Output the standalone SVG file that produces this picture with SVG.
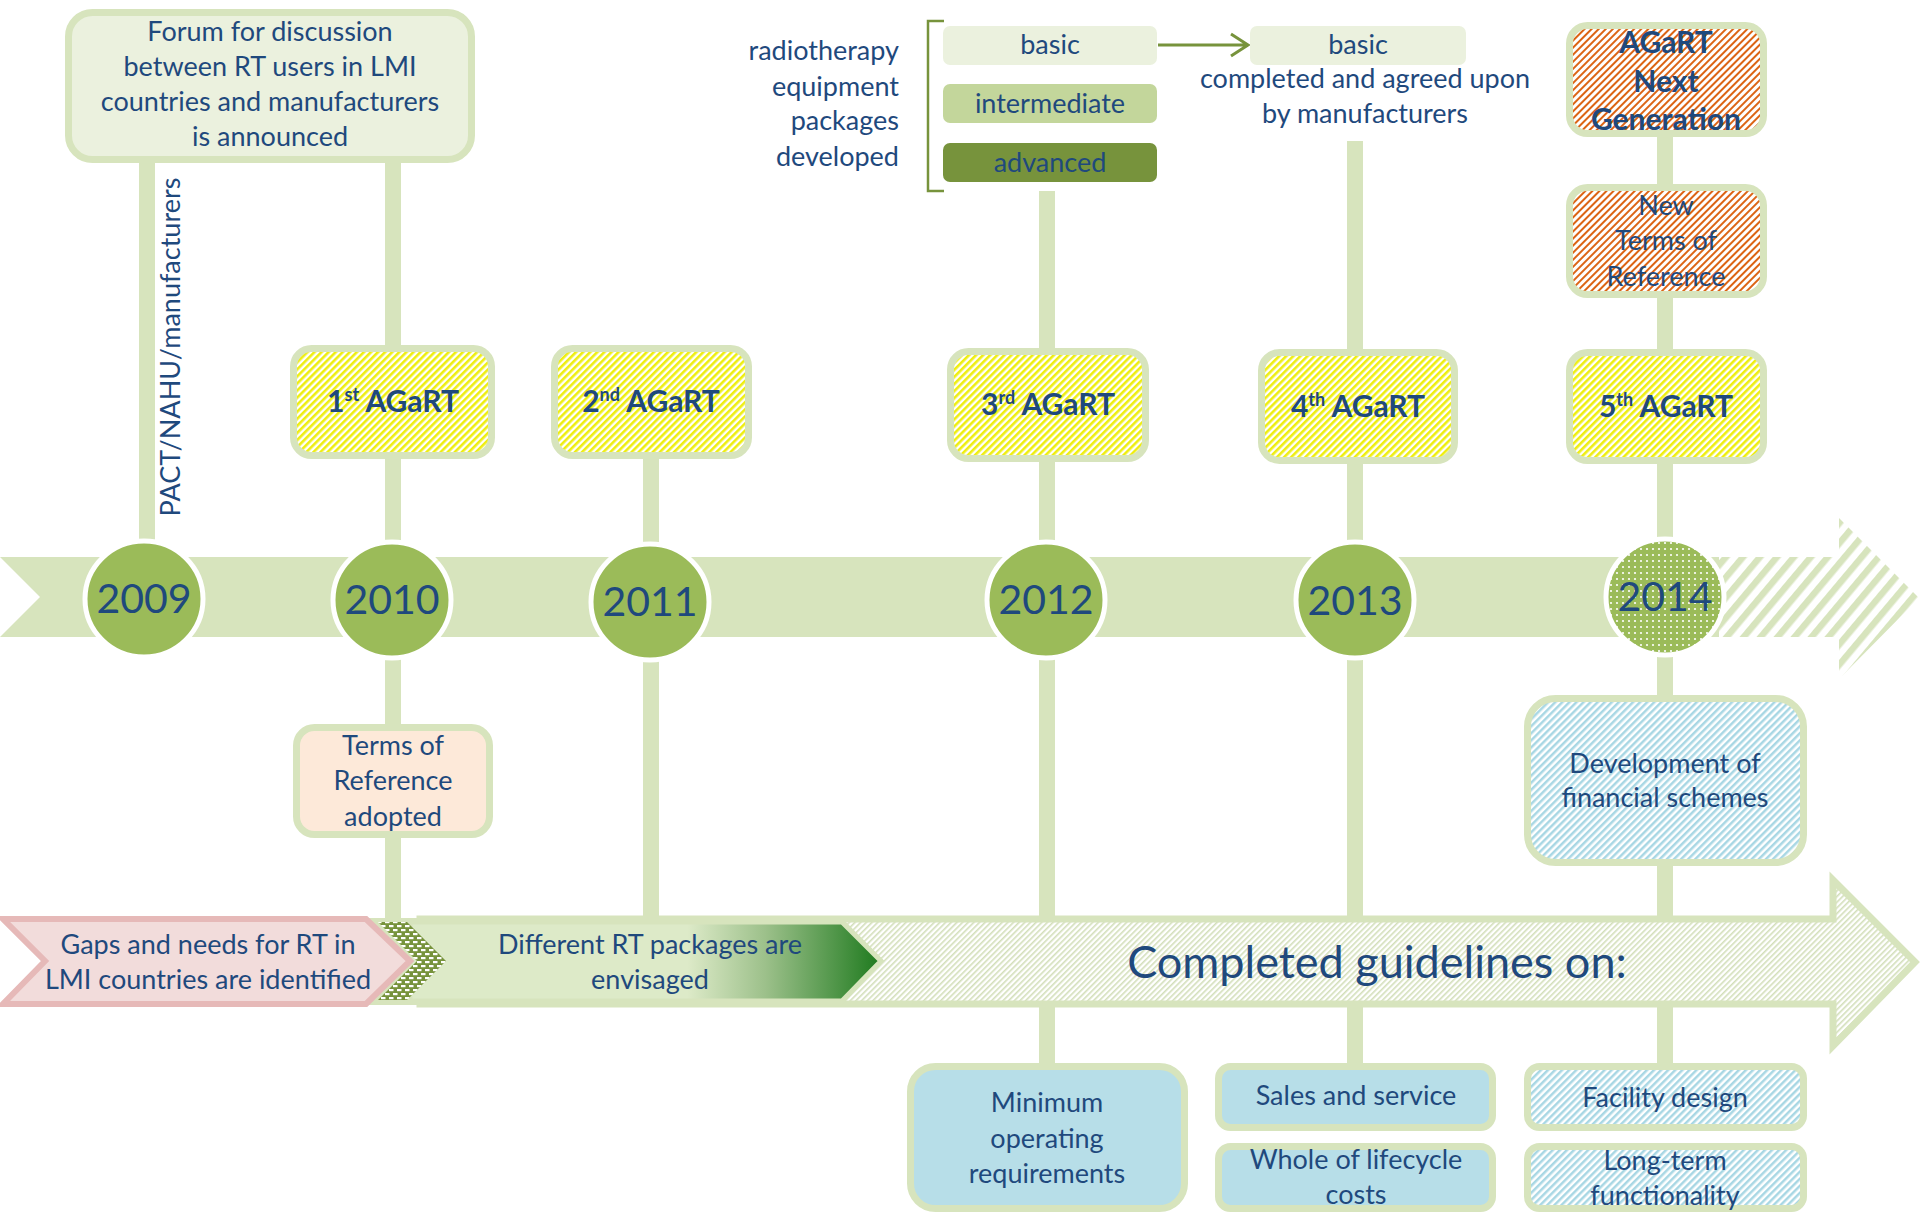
<svg xmlns="http://www.w3.org/2000/svg" width="1920" height="1218" viewBox="0 0 1920 1218">
<defs>
<style>
text{font-family:Lato,"Open Sans","Liberation Sans",sans-serif;fill:#1F497D;text-anchor:middle}
.f27{font-size:27px}
.bold{font-weight:bold;font-size:30px}
.yr{font-size:41px}
.conn{stroke:#D7E4BD;stroke-width:16;fill:none}
.bx{stroke:#D7E4BD;stroke-width:7}
.yc{fill:#9BBB59;stroke:#FFFFFF;stroke-width:5}
</style>
<pattern id="pYellow" width="5" height="5" patternUnits="userSpaceOnUse" patternTransform="rotate(45)">
<rect width="5" height="5" fill="#FFFFFF"/><rect width="2.6" height="5" fill="#EEEE10"/>
</pattern>
<pattern id="pRed" width="5" height="5" patternUnits="userSpaceOnUse" patternTransform="rotate(45)">
<rect width="5" height="5" fill="#FFFFFF"/><rect width="2" height="5" fill="#DC6414"/>
</pattern>
<pattern id="pBlue" width="5" height="5" patternUnits="userSpaceOnUse" patternTransform="rotate(45)">
<rect width="5" height="5" fill="#FFFFFF"/><rect width="2.5" height="5" fill="#A8D7E4"/>
</pattern>
<pattern id="pFine" width="4" height="4" patternUnits="userSpaceOnUse" patternTransform="rotate(45)">
<rect width="4" height="4" fill="#FFFFFF"/><rect width="1.6" height="4" fill="#D3DFBA"/>
</pattern>
<pattern id="pWide" width="13" height="13" patternUnits="userSpaceOnUse" patternTransform="rotate(40)">
<rect width="13" height="13" fill="#FFFFFF"/><rect width="6.5" height="13" fill="#D7E4BD"/>
</pattern>
<pattern id="pDots" width="6" height="6" patternUnits="userSpaceOnUse">
<rect width="6" height="6" fill="#9BBB59"/><circle cx="3" cy="3" r="1.1" fill="#FFFFFF"/>
</pattern>
<pattern id="pDotsDark" width="8" height="8" patternUnits="userSpaceOnUse">
<rect width="8" height="8" fill="#77933C"/><rect x="1" y="1" width="4.5" height="2.2" fill="#FFFFFF"/><rect x="5" y="5" width="3" height="2.2" fill="#FFFFFF"/><rect x="0" y="5" width="1.5" height="2.2" fill="#FFFFFF"/>
</pattern>
<linearGradient id="gGreen" gradientUnits="userSpaceOnUse" x1="420" y1="0" x2="881" y2="0">
<stop offset="0" stop-color="#DDEAC8"/>
<stop offset="0.58" stop-color="#DDEAC8"/>
<stop offset="0.75" stop-color="#9CC08A"/>
<stop offset="1" stop-color="#1E7A1E"/>
</linearGradient>
</defs>

<!-- connectors -->
<g id="connectors">
<line class="conn" x1="147" y1="160" x2="147" y2="545"/>
<line class="conn" x1="393" y1="160" x2="393" y2="920"/>
<line class="conn" x1="651" y1="455" x2="651" y2="920"/>
<line class="conn" x1="1047" y1="191" x2="1047" y2="1066"/>
<line class="conn" x1="1355" y1="141" x2="1355" y2="1066"/>
<line class="conn" x1="1665" y1="135" x2="1665" y2="1066"/>
<path d="M1158,45 H1247 M1231,34 L1248,45 L1231,56" stroke="#77933C" stroke-width="3" fill="none"/>
</g>

<!-- timeline band -->
<g id="timeline">
<polygon points="0,557 1722,557 1722,637 0,637 40,597" fill="#D7E4BD"/>
<polygon points="1719,557 1839,557 1839,518 1919,598 1839,679 1839,637 1719,637" fill="url(#pWide)"/>
</g>

<!-- bottom banner -->
<g id="banner-completed">
<polygon points="420,919 1833,919 1833,880 1915,962 1833,1046 1833,1004 420,1004" fill="url(#pFine)" stroke="#D7E4BD" stroke-width="7"/>
<text x="1377" y="978" style="font-size:45px">Completed guidelines on:</text>
</g>
<g id="banner-different">
<polygon points="368,918 842,918 884,961 842,1005 368,1005 410,961" fill="#D7E4BD"/>
<polygon points="410,922 842,922 881,961 842,1001 410,1001" fill="url(#gGreen)" stroke="#D7E4BD" stroke-width="5"/>
<text class="f27" x="650" y="954">Different RT packages are</text>
<text class="f27" x="650" y="989">envisaged</text>
</g>
<g id="banner-dots">
<polygon points="378,922 407,922 446,961 407,1000 378,1000 417,961" fill="url(#pDotsDark)"/>
</g>
<g id="banner-gaps">
<polygon points="3,919 366,919 410,961 366,1004 3,1004 45,961" fill="#F2DCDB" stroke="#E6B9B8" stroke-width="6"/>
<text class="f27" x="208" y="954">Gaps and needs for RT in</text>
<text class="f27" x="208" y="989">LMI countries are identified</text>
</g>

<!-- top nodes -->
<g id="forum">
<rect class="bx" x="68.5" y="12.5" width="403" height="147" rx="24" fill="#EBF1DE"/>
<text class="f27" x="270" y="41">Forum for discussion</text>
<text class="f27" x="270" y="76">between RT users in LMI</text>
<text class="f27" x="270" y="111">countries and manufacturers</text>
<text class="f27" x="270" y="146">is announced</text>
</g>
<g id="pact-label">
<text class="f27" x="171" y="356" transform="rotate(-90 171 347)">PACT/NAHU/manufacturers</text>
</g>

<g id="packages">
<text class="f27" x="899" y="60" style="text-anchor:end">radiotherapy</text>
<text class="f27" x="899" y="96" style="text-anchor:end">equipment</text>
<text class="f27" x="899" y="130" style="text-anchor:end">packages</text>
<text class="f27" x="899" y="166" style="text-anchor:end">developed</text>
<path d="M944,21 H928 V191 H944" stroke="#77933C" stroke-width="2.5" fill="none"/>
</g>
<g id="pkg-basic">
<rect x="943" y="26" width="214" height="39" rx="7" fill="#EBF1DE"/>
<text class="f27" x="1050" y="54">basic</text>
</g>
<g id="pkg-intermediate">
<rect x="943" y="84" width="214" height="39" rx="7" fill="#C3D69B"/>
<text class="f27" x="1050" y="113">intermediate</text>
</g>
<g id="pkg-advanced">
<rect x="943" y="143" width="214" height="39" rx="7" fill="#77933C"/>
<text class="f27" x="1050" y="172">advanced</text>
</g>
<g id="basic-agreed">
<rect x="1250" y="26" width="216" height="39" rx="7" fill="#EBF1DE"/>
<text class="f27" x="1358" y="54">basic</text>
<text class="f27" x="1365" y="88">completed and agreed upon</text>
<text class="f27" x="1365" y="123">by manufacturers</text>
</g>

<g id="agart-next">
<rect class="bx" x="1569.5" y="25.5" width="194" height="108" rx="18" fill="url(#pRed)"/>
<text class="bold" x="1666" y="53">AGaRT</text>
<text class="bold" x="1666" y="92">Next</text>
<text class="bold" x="1666" y="130">Generation</text>
</g>
<g id="new-tor">
<rect class="bx" x="1569.5" y="187.5" width="194" height="107" rx="18" fill="url(#pRed)"/>
<text class="f27" x="1666" y="215">New</text>
<text class="f27" x="1666" y="250">Terms of</text>
<text class="f27" x="1666" y="286">Reference</text>
</g>

<g id="agart1">
<rect class="bx" x="293.5" y="348.5" width="198" height="107" rx="18" fill="url(#pYellow)"/>
<text class="bold" x="393" y="412">1<tspan font-size="18" dy="-11">st</tspan><tspan dy="11"> AGaRT</tspan></text>
</g>
<g id="agart2">
<rect class="bx" x="554.5" y="348.5" width="194" height="107" rx="18" fill="url(#pYellow)"/>
<text class="bold" x="651" y="412">2<tspan font-size="18" dy="-11">nd</tspan><tspan dy="11"> AGaRT</tspan></text>
</g>
<g id="agart3">
<rect class="bx" x="950.5" y="351.5" width="195" height="107" rx="18" fill="url(#pYellow)"/>
<text class="bold" x="1048" y="415">3<tspan font-size="18" dy="-11">rd</tspan><tspan dy="11"> AGaRT</tspan></text>
</g>
<g id="agart4">
<rect class="bx" x="1261.5" y="352.5" width="193" height="108" rx="18" fill="url(#pYellow)"/>
<text class="bold" x="1358" y="417">4<tspan font-size="18" dy="-11">th</tspan><tspan dy="11"> AGaRT</tspan></text>
</g>
<g id="agart5">
<rect class="bx" x="1569.5" y="352.5" width="194" height="108" rx="18" fill="url(#pYellow)"/>
<text class="bold" x="1666" y="417">5<tspan font-size="18" dy="-11">th</tspan><tspan dy="11"> AGaRT</tspan></text>
</g>

<!-- year circles -->
<g id="y2009"><ellipse class="yc" cx="144" cy="599" rx="59" ry="58"/><text class="yr" x="144" y="613">2009</text></g>
<g id="y2010"><ellipse class="yc" cx="392" cy="600" rx="59" ry="58"/><text class="yr" x="392" y="614">2010</text></g>
<g id="y2011"><ellipse class="yc" cx="650" cy="602" rx="59" ry="58"/><text class="yr" x="650" y="616">2011</text></g>
<g id="y2012"><ellipse class="yc" cx="1046" cy="600" rx="59" ry="58"/><text class="yr" x="1046" y="614">2012</text></g>
<g id="y2013"><ellipse class="yc" cx="1355" cy="600" rx="59" ry="58"/><text class="yr" x="1355" y="615">2013</text></g>
<g id="y2014"><ellipse cx="1665" cy="597" rx="59" ry="58" fill="url(#pDots)" stroke="#FFFFFF" stroke-width="5"/><text class="yr" x="1665" y="611">2014</text></g>

<!-- lower nodes -->
<g id="tor-adopted">
<rect class="bx" x="296.5" y="727.5" width="193" height="107" rx="18" fill="#FDE9D9"/>
<text class="f27" x="393" y="755">Terms of</text>
<text class="f27" x="393" y="790">Reference</text>
<text class="f27" x="393" y="826">adopted</text>
</g>
<g id="financial">
<rect class="bx" x="1527.5" y="698.5" width="276" height="164" rx="28" fill="url(#pBlue)"/>
<text class="f27" x="1665" y="773">Development of</text>
<text class="f27" x="1665" y="807">financial schemes</text>
</g>

<g id="min-op">
<rect class="bx" x="910.5" y="1066.5" width="274" height="142" rx="25" fill="#B7DEE8"/>
<text class="f27" x="1047" y="1112">Minimum</text>
<text class="f27" x="1047" y="1148">operating</text>
<text class="f27" x="1047" y="1183">requirements</text>
</g>
<g id="sales">
<rect class="bx" x="1218.5" y="1066.5" width="274" height="61" rx="12" fill="#B7DEE8"/>
<text class="f27" x="1356" y="1105">Sales and service</text>
</g>
<g id="lifecycle">
<rect class="bx" x="1218.5" y="1146.5" width="274" height="62" rx="12" fill="#B7DEE8"/>
<text class="f27" x="1356" y="1169">Whole of lifecycle</text>
<text class="f27" x="1356" y="1204">costs</text>
</g>
<g id="facility">
<rect class="bx" x="1527.5" y="1066.5" width="276" height="61" rx="12" fill="url(#pBlue)"/>
<text class="f27" x="1665" y="1107">Facility design</text>
</g>
<g id="longterm">
<rect class="bx" x="1527.5" y="1146.5" width="276" height="62" rx="12" fill="url(#pBlue)"/>
<text class="f27" x="1665" y="1170">Long-term</text>
<text class="f27" x="1665" y="1205">functionality</text>
</g>
</svg>
